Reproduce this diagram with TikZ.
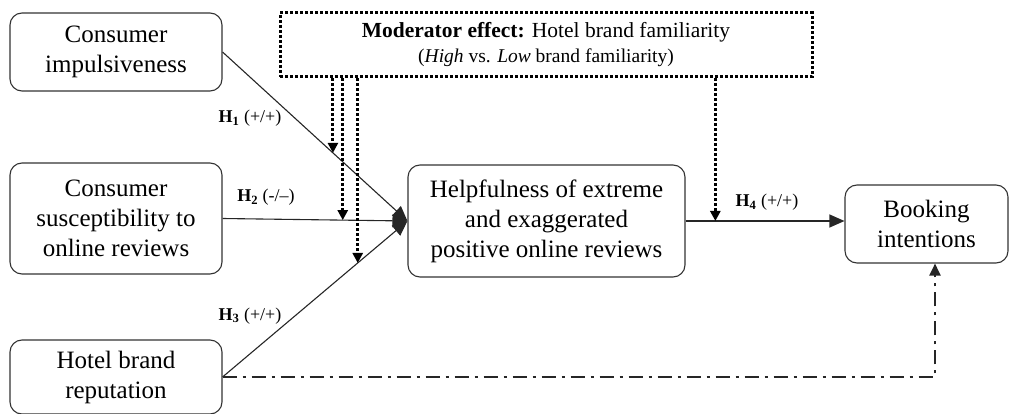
\documentclass[tikz,border=0pt]{standalone}
\usepackage{fontspec}
\setmainfont{Liberation Serif}
\usetikzlibrary{arrows.meta,calc}
\begin{document}
\begin{tikzpicture}[x=1pt,y=-1pt,
  box/.style={draw=black!80,line width=1.1pt,rounded corners=12pt,align=center,inner sep=0pt,font=\fontsize{25}{30}\selectfont},
  mainarrow/.style={draw=black!85,line width=1.1pt,-{Triangle[length=15pt,width=13pt]}},
  modarrow/.style={draw=black,line width=3pt,dash pattern=on 2.6pt off 2.4pt,-{Triangle[length=10pt,width=10pt]}},
  dashdotarrow/.style={draw=black!85,line width=2pt,dash pattern=on 14pt off 6pt on 3pt off 6pt,-{Triangle[length=12pt,width=11pt]}},
  hlab/.style={anchor=base,inner sep=0pt,font=\fontsize{18}{20}\selectfont},
]
\useasboundingbox (0,0) rectangle (1017,414);

% boxes
\node[box,minimum width=212pt,minimum height=78pt] (imp) at (116,52) {Consumer\\impulsiveness};
\node[box,minimum width=212pt,minimum height=111pt] (sus) at (116,218.5) {Consumer\\susceptibility to\\online reviews};
\node[box,minimum width=212pt,minimum height=74pt] (rep) at (116,377) {Hotel brand\\reputation};
\node[box,minimum width=277pt,minimum height=112pt] (help) at (546.5,221) {Helpfulness of extreme\\and exaggerated\\positive online reviews};
\node[box,minimum width=163pt,minimum height=78pt] (book) at (926.5,224) {Booking\\intentions};

% moderator
\node[draw=black,line width=3pt,dash pattern=on 2.6pt off 2.4pt,minimum width=532pt,minimum height=64pt,inner sep=0pt,align=center,
      font=\fontsize{21.5}{25}\selectfont] (mod) at (546,45)
  {\textbf{Moderator effect:} Hotel brand familiarity\\{\fontsize{19.5}{23}\selectfont(\textit{High} vs. \textit{Low} brand familiarity)}};

% main paths
\draw[mainarrow] (imp.east) -- coordinate[pos=0.597] (p1) (help.west);
\draw[mainarrow] (sus.east) -- coordinate[pos=0.65] (p2) (help.west);
\draw[mainarrow] (rep.east) -- coordinate[pos=0.731] (p3) (help.west);
\draw[mainarrow] (help.east) -- coordinate[pos=0.1875] (p4) (help.east -| book.west);

% moderator arrows
\draw[modarrow] (mod.south -| p1) -- (p1);
\draw[modarrow] (mod.south -| p2) -- (p2);
\draw[modarrow] (mod.south -| p3) -- (p3);
\draw[modarrow] (mod.south -| p4) -- (p4);

% dash-dot direct path
\coordinate (bk) at ([xshift=8.5pt]book.south);
\draw[dashdotarrow] (rep.east) -| (bk);

% labels
\node[hlab] (h1) at (250,123) {\textbf{H\textsubscript{1}} (+/+)};
\node[hlab] (h2) at (266,202) {\textbf{H\textsubscript{2}} (-/–)};
\node[hlab] (h3) at (250,320) {\textbf{H\textsubscript{3}} (+/+)};
\node[hlab] (h4) at (767,207) {\textbf{H\textsubscript{4}} (+/+)};
\end{tikzpicture}
\end{document}
